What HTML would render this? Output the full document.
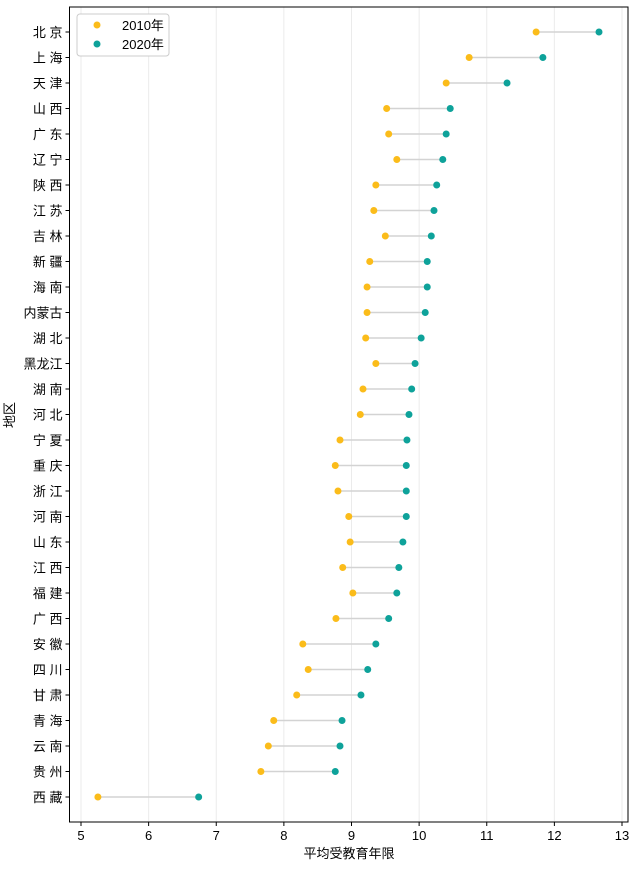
<!DOCTYPE html>
<html><head><meta charset="utf-8"><style>
body{margin:0;background:#fff}
text{font-family:"Liberation Sans","Noto Sans CJK SC",sans-serif;fill:#000}
</style></head><body>
<svg id="chart" width="635" height="876" xmlns="http://www.w3.org/2000/svg"></svg>
<script>
const regions=["北 京","上 海","天 津","山 西","广 东","辽 宁","陕 西","江 苏","吉 林","新 疆","海 南","内蒙古","湖 北","黑龙江","湖 南","河 北","宁 夏","重 庆","浙 江","河 南","山 东","江 西","福 建","广 西","安 徽","四 川","甘 肃","青 海","云 南","贵 州","西 藏"];
const y2010=[11.73,10.74,10.40,9.52,9.55,9.67,9.36,9.33,9.50,9.27,9.23,9.23,9.21,9.36,9.17,9.13,8.83,8.76,8.80,8.96,8.98,8.87,9.02,8.77,8.28,8.36,8.19,7.85,7.77,7.66,5.25];
const y2020=[12.66,11.83,11.30,10.46,10.40,10.35,10.26,10.22,10.18,10.12,10.12,10.09,10.03,9.94,9.89,9.85,9.82,9.81,9.81,9.81,9.76,9.70,9.67,9.55,9.36,9.24,9.14,8.86,8.83,8.76,6.74];
const xTicks=[5,6,7,8,9,10,11,12,13];
const svg=document.getElementById('chart');const NS="http://www.w3.org/2000/svg";
const L=69.5,R=628,T=7,B=822;
const xs=v=>81+(v-5)*67.625;
const ys=i=>32+i*25.5;
function el(t,a,txt){const e=document.createElementNS(NS,t);for(const k in a)e.setAttribute(k,a[k]);if(txt!=null)e.textContent=txt;svg.appendChild(e);return e;}
xTicks.forEach(t=>{const x=xs(t);
const g=el('line',{x1:x,x2:x,y1:T,y2:B,stroke:'#ebebeb','stroke-width':1});

el('line',{x1:x,x2:x,y1:B,y2:B+4,stroke:'#000'});
const lb=el('text',{x:x,y:B+18,'text-anchor':'middle','font-size':13},t);
});
regions.forEach((r,i)=>{const y=ys(i);
const c=el('line',{x1:xs(y2010[i]),x2:xs(y2020[i]),y1:y,y2:y,stroke:'#d3d3d3','stroke-width':1.5});

const a=el('circle',{cx:xs(y2010[i]),cy:y,r:3.5,fill:'#fbbc1a'});

const b=el('circle',{cx:xs(y2020[i]),cy:y,r:3.5,fill:'#0ea29a'});

el('line',{x1:L-4,x2:L,y1:y,y2:y,stroke:'#000'});
const lb=el('text',{x:L-7,y:y+5,'text-anchor':'end','font-size':13,'xml:space':'preserve'},r);
});
const fr=el('rect',{x:L,y:T,width:R-L,height:B-T,fill:'none',stroke:'#000','stroke-width':1});

const xt=el('text',{x:349,y:858,'text-anchor':'middle','font-size':13},'平均受教育年限');

const yt=el('text',{x:14,y:415,'text-anchor':'middle','font-size':13,transform:'rotate(-90 14 415)'},'地区');

const lg=el('rect',{x:77,y:14,width:92,height:42,rx:3,fill:'#fff',stroke:'#ccc'});

el('circle',{cx:97,cy:25,r:3.5,fill:'#fbbc1a'});
const l1=el('text',{x:122,y:30,'font-size':13},'2010年');
el('circle',{cx:97,cy:44,r:3.5,fill:'#0ea29a'});
const l2=el('text',{x:122,y:49,'font-size':13},'2020年');
</script>
</body></html>
